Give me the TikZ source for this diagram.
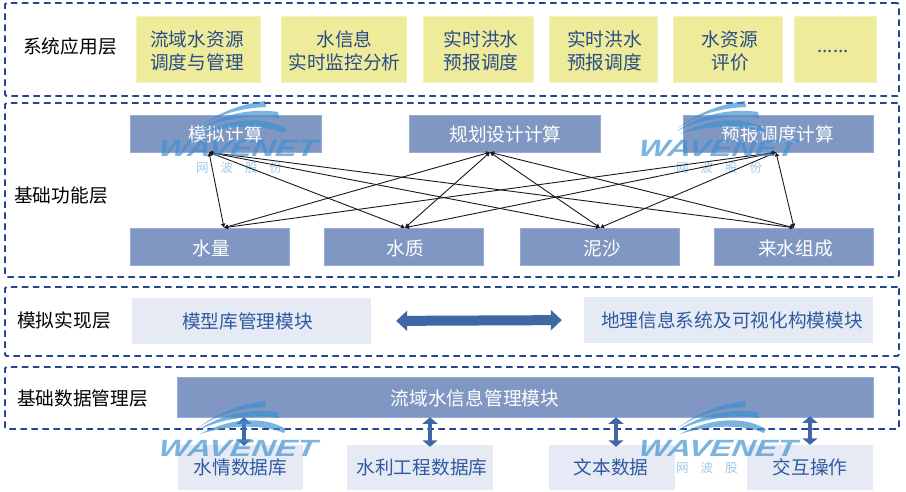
\documentclass[tikz,border=0pt]{standalone}
\usepackage{fontspec}
\setmainfont{Noto Sans CJK SC}
\newfontfamily\wavefont[FakeStretch=1.38]{Liberation Sans}
\usetikzlibrary{arrows.meta, positioning, calc}
\definecolor{LayerBlue}{RGB}{36, 70, 142}
\definecolor{BoxBlue}{RGB}{127, 151, 194}
\definecolor{BoxEdge}{RGB}{150, 172, 210}
\definecolor{PaleBlue}{RGB}{230, 234, 244}
\definecolor{PaleText}{RGB}{47, 90, 160}
\definecolor{BoxYellow}{RGB}{238, 235, 155}
\definecolor{ArrowBlue}{RGB}{63, 103, 166}
\definecolor{WaveBlue}{RGB}{62, 145, 210}
\tikzset{
    every node/.style={font=\fontsize{18.67}{23}\selectfont, inner sep=0pt, align=center},
    layerbox/.style={draw=LayerBlue, line width=1.8, dash pattern=on 6.5pt off 4.5pt, rounded corners=1.5, minimum width=894},
    appbox/.style={fill=BoxYellow, draw=BoxYellow!60!white, line width=0.6, minimum height=66},
    fnbox/.style={fill=BoxBlue, draw=BoxEdge, line width=0.6, minimum height=37},
    palebox/.style={fill=PaleBlue},
    link/.style={draw=black!90, line width=0.9, {Latex[length=4pt, width=5pt]}-{Latex[length=4pt, width=5pt]}},
    bigarrow/.style={draw=ArrowBlue, line width=10, {Triangle[length=11pt, width=20pt]}-{Triangle[length=11pt, width=20pt]}},
    smallarrow/.style={draw=ArrowBlue, line width=4, {Triangle[length=6.5pt, width=15pt]}-{Triangle[length=6.5pt, width=15pt]}},
}
\newcommand{\wavesub}[3]{
    \node [text=WaveBlue, opacity=0.5, font=\fontsize{12.5}{14}\selectfont] (sub#1) at (#2+79,#3+30) {网\hspace{12pt}波\hspace{12pt}股\hspace{12pt}份};
}
\newcommand{\wavelogo}[3]{
    \begin{scope}[shift={(#2,#3)}, fill=WaveBlue, opacity=0.68]
        \fill (38,-10) .. controls (58,-26) and (82,-34) .. (105,-37) -- (106,-31) .. controls (82,-30) and (58,-24) .. (38,-10) -- cycle;
        \fill (37,-7) .. controls (60,-24) and (92,-30) .. (118,-26) -- (119,-20) .. controls (92,-24) and (60,-19) .. (37,-7) -- cycle;
        \fill (40,-4) .. controls (66,-18) and (100,-24) .. (126,-9) -- (124,-5) .. controls (100,-15) and (66,-12) .. (40,-4) -- cycle;
        \node [anchor=west, xslant=0.15, text=WaveBlue, font=\wavefont\fontsize{23.5}{24}\selectfont\bfseries\itshape] (word#1) at (-1,10) {WAVENET};
    \end{scope}
}

\begin{document}
\begin{tikzpicture}[x=1pt, y=-1pt]
    \useasboundingbox (0,0) rectangle (906,491);

    % layers
    \node [layerbox, minimum height=93] (applayer) at (452,49.5) {};
    \node [layerbox, minimum height=174] (fnlayer) at (452,190) {};
    \node [layerbox, minimum height=69] (simlayer) at (452,321.5) {};
    \node [layerbox, minimum height=62] (datalayer) at (452,398) {};

    \node (applabel) at (70,46) {系统应用层};
    \node (fnlabel) at (61,195) {基础功能层};
    \node (simlabel) at (64,320) {模拟实现层};
    \node (datalabel) at (82.5,398) {基础数据管理层};

    \wavesub{a}{160}{138}
    \wavesub{b}{640}{138}
    \wavesub{d}{640}{438}

    \node [appbox, minimum width=124] (basin) at (198,49) {};
    \node [appbox, minimum width=125] (monitor) at (343.5,49) {};
    \node [appbox, minimum width=110] (flooda) at (478,49) {};
    \node [appbox, minimum width=108] (floodb) at (603,49) {};
    \node [appbox, minimum width=109] (assess) at (727.5,49) {};
    \node [appbox, minimum width=82] (more) at (835,49) {};
    \foreach \nm/\dx/\txt in {basin/-1/{流域水资源\\调度与管理}, monitor/1/{水信息\\实时监控分析}, flooda/3/{实时洪水\\预报调度}, floodb/1.5/{实时洪水\\预报调度}, assess/2.5/{水资源\\评价}, more/-2/{......}} {
        \node [text=PaleText!85!black] (\nm text) at ([xshift=\dx,yshift=-2]\nm.center) {\txt};
    }

    \node [fnbox, minimum width=191] (simcalc) at (225.5,133.5) {};
    \node [fnbox, minimum width=191] (plancalc) at (504.5,133.5) {};
    \node [fnbox, minimum width=190] (dispcalc) at (778,133.5) {};
    \node [fnbox, minimum width=159] (quantity) at (209.5,246.5) {};
    \node [fnbox, minimum width=159] (quality) at (403.5,246.5) {};
    \node [fnbox, minimum width=159] (sediment) at (599.5,246.5) {};
    \node [fnbox, minimum width=159] (inflow) at (793.5,246.5) {};
    \foreach \nm/\dx/\dy/\txt in {simcalc/0/1/模拟计算, plancalc/1/1/规划设计计算, dispcalc/0/1/预报调度计算, quantity/2/2/水量, quality/2/2/水质, sediment/3/2/泥沙, inflow/2/2/来水组成} {
        \node [text=white] (\nm text) at ([xshift=\dx,yshift=-\dy]\nm.center) {\txt};
    }

    \coordinate (ta) at ([xshift=-16.5]simcalc.south);
    \coordinate (tb) at ([xshift=-14.5]plancalc.south);
    \coordinate (tc) at ([xshift=-2]dispcalc.south);
    \coordinate (ba) at ([xshift=14.5]quantity.north);
    \coordinate (bb) at ([xshift=1.5]quality.north);
    \coordinate (bc) at ([xshift=0.5]sediment.north);
    \coordinate (bd) at ([xshift=0.5]inflow.north);
    \foreach \a in {ta, tb, tc} {
        \foreach \b in {ba, bb, bc, bd} {
            \draw [link] (\a) -- (\b);
        }
    }

    \node [palebox, minimum width=239, minimum height=46] (modellib) at (251.5,321) {};
    \node [palebox, minimum width=289, minimum height=46] (gis) at (728.5,320) {};
    \draw [bigarrow, shorten <=25pt, shorten >=22pt] (modellib.east) -- (gis.west);

    \node [fnbox, minimum width=696, minimum height=40] (waterinfo) at (525,397) {};
    \node [text=white] (waterinfotext) at (475,398) {流域水信息管理模块};
    \node [palebox, minimum width=125, minimum height=45] (regimedb) at (240.5,467.5) {};
    \node [palebox, minimum width=146, minimum height=45] (projectdb) at (420,467.5) {};
    \node [palebox, minimum width=126, minimum height=45] (textdb) at (612,467.5) {};
    \node [palebox, minimum width=126, minimum height=45] (interact) at (810,467.5) {};
    \foreach \nm/\dx/\txt in {modellib/-4/模型库管理模块, gis/3.5/地理信息系统及可视化构模模块, regimedb/0/水情数据库, projectdb/2/水利工程数据库, textdb/-1/文本数据, interact/0/交互操作} {
        \node [text=PaleText] (\nm text) at ([xshift=\dx]\nm.center) {\txt};
    }

    \draw [smallarrow] ([xshift=3.5]waterinfo.south -| regimedb) -- ([xshift=3.5,yshift=-1]regimedb.north);
    \draw [smallarrow] ([xshift=10]waterinfo.south -| projectdb) -- ([xshift=10,yshift=-2]projectdb.north);
    \draw [smallarrow] ([xshift=4]waterinfo.south -| textdb) -- ([xshift=4,yshift=-2]textdb.north);
    \draw [smallarrow] ([yshift=1]waterinfo.south -| interact) -- (interact.north);

    \wavelogo{a}{160}{138}
    \wavelogo{b}{640}{138}
    \wavelogo{c}{160}{438}
    \wavelogo{d}{640}{438}
\end{tikzpicture}
\end{document}
